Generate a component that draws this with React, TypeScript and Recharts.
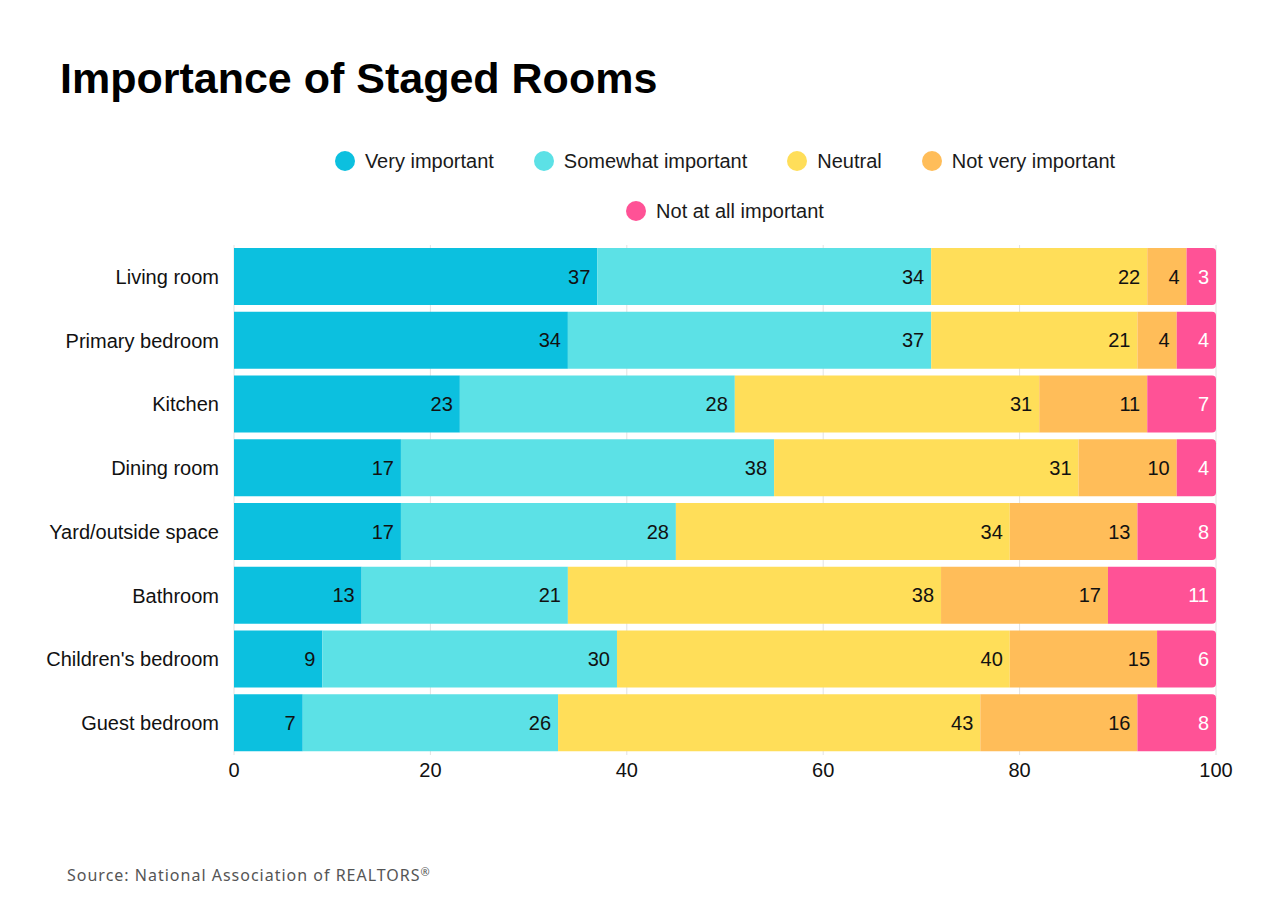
import React from 'react';
import { BarChart, Bar, XAxis, YAxis, CartesianGrid, LabelList } from 'recharts';

const rooms = [
  'Living room',
  'Primary bedroom',
  'Kitchen',
  'Dining room',
  'Yard/outside space',
  'Bathroom',
  "Children's bedroom",
  'Guest bedroom',
];
const veryImportant = [37, 34, 23, 17, 17, 13, 9, 7];
const somewhatImportant = [34, 37, 28, 38, 28, 21, 30, 26];
const neutral = [22, 21, 31, 31, 34, 38, 40, 43];
const notVeryImportant = [4, 4, 11, 10, 13, 17, 15, 16];
const notAtAllImportant = [3, 4, 7, 4, 8, 11, 6, 8];
const xTicks = [0, 20, 40, 60, 80, 100];

const seriesNames = ['Very important', 'Somewhat important', 'Neutral', 'Not very important', 'Not at all important'];
const seriesKeys = ['very', 'somewhat', 'neutral', 'notVery', 'notAtAll'];
const seriesColors = ['#0cc0df', '#5ce1e6', '#ffde59', '#ffbd59', '#ff5296'];
const labelColors = ['#111', '#111', '#111', '#111', '#ffffff'];
const seriesValues = [veryImportant, somewhatImportant, neutral, notVeryImportant, notAtAllImportant];

const data = rooms.map((room, i) => {
  const row: Record<string, any> = { room };
  seriesKeys.forEach((k, s) => {
    row[k] = seriesValues[s][i];
  });
  return row;
});

const FONT = '"Liberation Sans", Arial, Helvetica, sans-serif';

export default function App() {
  return (
    <div
      style={{
        position: 'absolute',
        left: 0,
        top: 0,
        width: 1280,
        height: 920,
        background: '#ffffff',
        fontFamily: FONT,
        overflow: 'hidden',
      }}
    >
      <div
        style={{
          position: 'absolute',
          left: 60,
          top: 57,
          fontSize: 43,
          lineHeight: 1,
          fontWeight: 700,
          color: '#000',
          whiteSpace: 'nowrap',
        }}
      >
        Importance of Staged Rooms
      </div>

      <div
        style={{
          position: 'absolute',
          left: 300,
          top: 136,
          width: 850,
          display: 'flex',
          flexWrap: 'wrap',
          justifyContent: 'center',
          columnGap: 40,
          rowGap: 0,
        }}
      >
        {seriesNames.map((name, i) => (
          <div
            key={name}
            style={{ display: 'flex', alignItems: 'center', height: 50, fontSize: 20, color: '#1a1a1a' }}
          >
            <span
              style={{
                display: 'inline-block',
                width: 20,
                height: 20,
                borderRadius: '50%',
                background: seriesColors[i],
                marginRight: 10,
              }}
            />
            <span style={{ whiteSpace: 'nowrap' }}>{name}</span>
          </div>
        ))}
      </div>

      <div style={{ position: 'absolute', left: 0, top: 0 }}>
        <BarChart
          width={1280}
          height={920}
          data={data}
          layout="vertical"
          margin={{ top: 245, right: 64, left: 0, bottom: 135 }}
          style={{ fontFamily: FONT }}
        >
          <CartesianGrid horizontal={false} stroke="#e2e2e2" />
          <XAxis
            type="number"
            domain={[0, 100]}
            ticks={xTicks}
            axisLine={false}
            tickLine={false}
            height={30}
            tick={{ fill: '#111', fontSize: 20 }}
          />
          <YAxis
            type="category"
            dataKey="room"
            width={234}
            axisLine={false}
            tickLine={false}
            tickMargin={9}
            tick={{ fill: '#111', fontSize: 20 }}
          />
          {seriesKeys.map((k, i) => (
            <Bar
              key={k}
              dataKey={k}
              name={seriesNames[i]}
              stackId="a"
              fill={seriesColors[i]}
              barSize={57}
              radius={i === seriesKeys.length - 1 ? [0, 4, 4, 0] : 0}
              isAnimationActive={false}
            >
              <LabelList
                dataKey={k}
                position="insideRight"
                offset={7}
                fill={labelColors[i]}
                fontSize={20}
              />
            </Bar>
          ))}
        </BarChart>
      </div>

      <div
        style={{
          position: 'absolute',
          left: 67,
          top: 867,
          fontSize: 16,
          lineHeight: 1,
          color: '#555',
          letterSpacing: 1,
          fontFamily: '"Noto Sans", "Open Sans", sans-serif',
          whiteSpace: 'nowrap',
        }}
      >
        Source: National Association of REALTORS
        <span style={{ fontSize: 11, verticalAlign: 'top', position: 'relative', top: -1 }}>®</span>
      </div>
    </div>
  );
}
